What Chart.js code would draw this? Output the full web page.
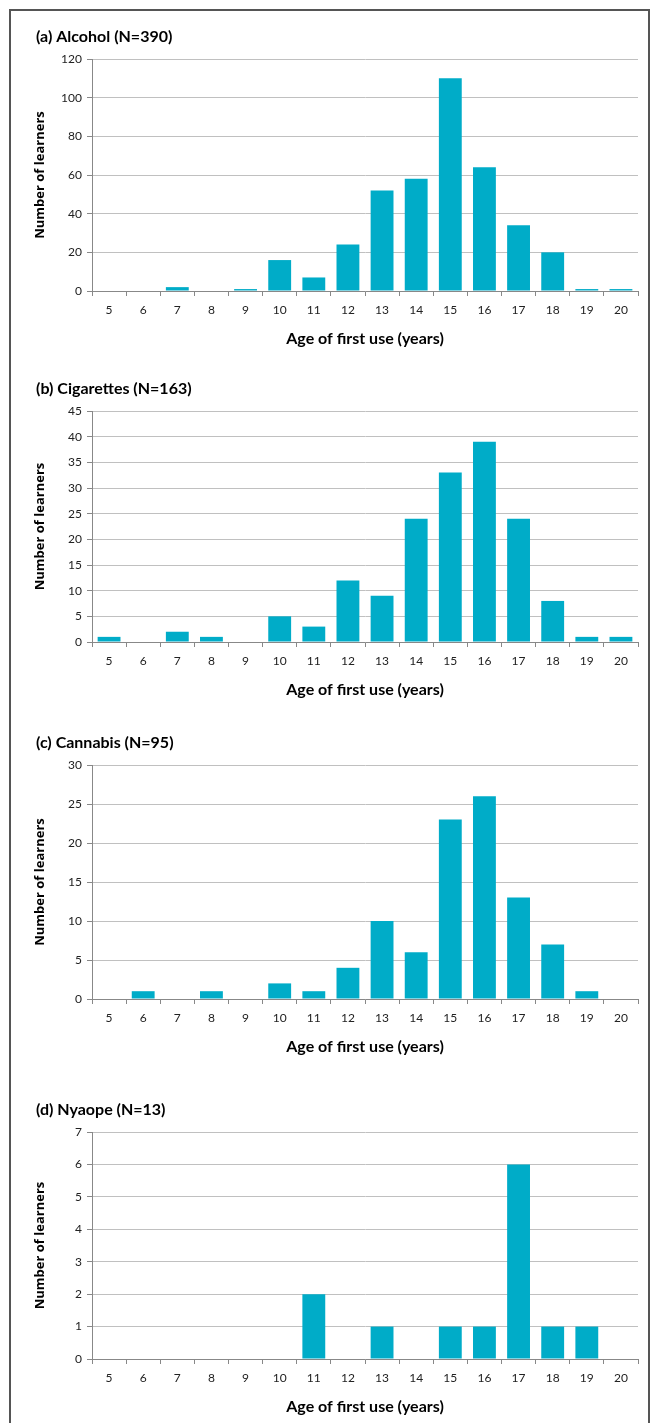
<!DOCTYPE html>
<html>
<head>
<meta charset="utf-8">
<script src="https://cdn.jsdelivr.net/npm/chart.js@4.4.1/dist/chart.umd.min.js"></script>
<style>
  body{margin:0;background:#fff;width:654px;height:1423px;overflow:hidden;position:relative;}
  .frame{position:absolute;left:9px;top:9px;width:641px;height:1440px;border:2px solid #555;box-sizing:border-box;}
  .panel{position:absolute;left:10px;width:642px;}
</style>
</head>
<body>
<div class="frame"></div>
<div class="panel" id="p0"><canvas id="c0"></canvas></div>
<div class="panel" id="p1"><canvas id="c1"></canvas></div>
<div class="panel" id="p2"><canvas id="c2"></canvas></div>
<div class="panel" id="p3"><canvas id="c3"></canvas></div>
<script>
const ages = ['5','6','7','8','9','10','11','12','13','14','15','16','17','18','19','20'];

const alcohol    = [0,0,2,0,1,16,7,24,52,58,110,64,34,20,1,1];
const cigarettes = [1,0,2,1,0,5,3,12,9,24,33,39,24,8,1,1];
const cannabis   = [0,1,0,1,0,2,1,4,10,6,23,26,13,7,1,0];
const nyaope     = [0,0,0,0,0,0,2,0,1,0,1,1,6,1,1,0];

const titles = ['(a) Alcohol (N=390)','(b) Cigarettes (N=163)','(c) Cannabis (N=95)','(d) Nyaope (N=13)'];
const yMax  = [120,45,30,7];
const yStep = [20,5,5,1];

const xTitle = 'Age of first use (years)';
const yTitle = 'Number of learners';

// plot area top / height in page pixels
const plotTop = [59,411,765,1132];
const plotH   = [232,231,234,227];

const barColor = '#00acc8';
const series = [alcohol,cigarettes,cannabis,nyaope];

series.forEach((vals,i)=>{
    const wrap = document.getElementById('p'+i);
    wrap.style.top = (plotTop[i]-38)+'px';
    wrap.style.height = (plotH[i]+38+62)+'px';
    new Chart(document.getElementById('c'+i),{
        type:'bar',
        data:{
            labels:ages,
            datasets:[{
                data:vals,
                backgroundColor:barColor,
                borderWidth:0,
                barPercentage:0.67,
                categoryPercentage:1
            }]
        },
        options:{
            responsive:true,
            maintainAspectRatio:false,
            animation:false,
            layout:{padding:{left:26,right:14,top:0,bottom:0}},
            plugins:{
                legend:{display:false},
                tooltip:{enabled:false},
                title:{
                    display:true,
                    text:titles[i],
                    align:'start',
                    color:'#000',
                    font:{family:'Lato',size:16,weight:'bold'},
                    padding:{top:6,bottom:12.8}
                }
            },
            scales:{
                x:{
                    afterFit:(s)=>{ s.height = 62; },
                    grid:{display:true,drawOnChartArea:false,drawTicks:true,tickLength:5,color:'#888',offset:true},
                    border:{display:true,color:'#888',width:1},
                    ticks:{color:'#222',font:{family:'Lato',size:12},padding:7,maxRotation:0,autoSkip:false},
                    title:{display:true,text:xTitle,color:'#000',font:{family:'Lato',size:16,weight:'bold'},padding:{top:0,bottom:5}}
                },
                y:{
                    min:0,
                    max:yMax[i],
                    afterFit:(s)=>{ s.width = 56; },
                    grid:{color:'#c0c0c0',lineWidth:1,tickLength:5,drawTicks:true,tickColor:'#888'},
                    border:{display:true,color:'#888',width:1},
                    ticks:{stepSize:yStep[i],color:'#222',font:{family:'Lato',size:12},padding:5},
                    title:{display:true,text:yTitle,color:'#000',font:{family:'Open Sans',size:13,weight:'bold'},padding:{top:-4,bottom:0}}
                }
            }
        }
    });
});
</script>
</body>
</html>
